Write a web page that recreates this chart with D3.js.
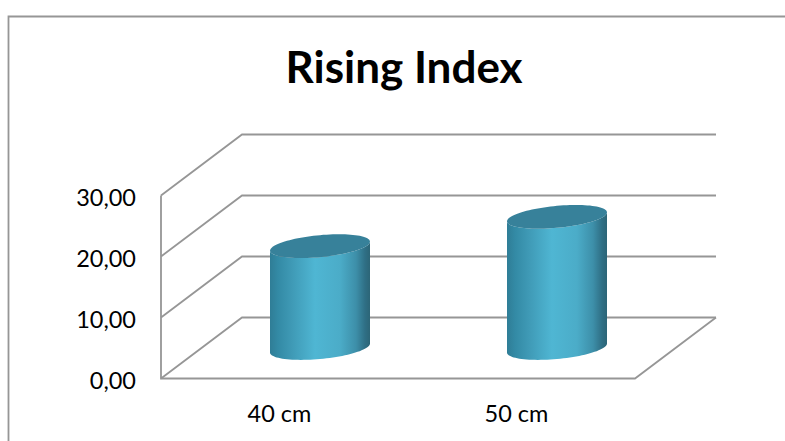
<!DOCTYPE html>
<html>
<head>
<meta charset="utf-8">
<script src="https://cdn.jsdelivr.net/npm/d3@7"></script>
<style>
html,body{margin:0;padding:0;background:#fff;}
svg{display:block;}
text{font-family:Lato,"Noto Sans",sans-serif;fill:#000;}
</style>
</head>
<body>
<div id="chart"></div>
<script>
const title = "Rising Index";
const categories = ["40 cm", "50 cm"];
const values = [16.7, 21.5];
const yTicks = [0, 10, 20, 30];

const width = 785, height = 441;
const gridColor = "#969696";
const depthX = 81, depthY = 61;      // oblique offset of the back wall

const y = d3.scaleLinear().domain([0, 30]).range([378.5, 195.5]);
const x = d3.scaleBand().domain(categories).range([161, 635]);
const numberFormat = d => d.toFixed(2).replace(".", ",");

const svg = d3.select("#chart").append("svg")
  .attr("width", width).attr("height", height);

const defs = svg.append("defs");
const grad = defs.append("linearGradient").attr("id", "cylinderSide")
  .attr("x1", "0").attr("x2", "1").attr("y1", "0").attr("y2", "0");
[[0, "#2f7d96"], [0.08, "#338aa5"], [0.22, "#3f9ab6"], [0.45, "#4fb6d3"],
 [0.7, "#4bacc8"], [0.86, "#3d8fa9"], [0.95, "#2f6f85"], [1, "#2c6577"]]
  .forEach(([o, c]) => grad.append("stop").attr("offset", o).attr("stop-color", c));

// Chart frame, open at the right and bottom edges of the page
svg.append("path")
  .attr("d", d3.line()([[8.5, height], [8.5, 16.5], [width, 16.5]]))
  .attr("fill", "none").attr("stroke", gridColor).attr("stroke-width", 1.8);

svg.append("text")
  .attr("x", 404).attr("y", 83)
  .attr("text-anchor", "middle")
  .attr("font-size", 44).attr("font-weight", 700)
  .text(title);

// Wall and floor gridlines
const grid = svg.append("g").attr("fill", "none")
  .attr("stroke", gridColor).attr("stroke-width", 1.8);
const [x0, x1] = x.range();
yTicks.forEach(t => {
  grid.append("path").attr("d", d3.line()([
    [x0, y(t)], [x0 + depthX, y(t) - depthY], [x1 + depthX, y(t) - depthY]
  ]));
});
grid.append("path").attr("d", d3.line()([
  [x0, y(30)], [x0, y(0)], [x1, y(0)], [x1 + depthX, y(0) - depthY]
]));

// Value axis
const yAxis = svg.append("g").attr("transform", `translate(${x0},0)`)
  .call(d3.axisLeft(y).tickValues(yTicks).tickFormat(numberFormat).tickSize(0).tickPadding(25));
yAxis.select(".domain").remove();
yAxis.selectAll("text").attr("font-size", 23.5).attr("font-family", "Lato, sans-serif").attr("dy", "0.42em");

// Category axis
const xAxis = svg.append("g").attr("transform", `translate(0,${y(0)})`)
  .call(d3.axisBottom(x).tickSize(0).tickPadding(27));
xAxis.select(".domain").remove();
xAxis.selectAll("text").attr("font-size", 23.5).attr("font-family", "Lato, sans-serif");

// Cylinders stand halfway into the floor's depth
const radiusX = 50, radiusY = 11, skew = 4.5;
const angles = d3.range(0, 2 * Math.PI + 0.001, Math.PI / 48);
const rimPoint = (cx, cy, a) => [
  cx + radiusX * Math.cos(a),
  cy + radiusY * Math.sin(a) - skew * Math.cos(a)
];

const bars = svg.append("g").selectAll("g").data(categories).join("g");

bars.each(function (c, i) {
  const g = d3.select(this);
  const cx = x(c) + x.bandwidth() / 2 + depthX / 2;
  const base = y(0) - depthY / 2;
  const top = base - (y(0) - y(values[i]));
  const front = angles.filter(a => a <= Math.PI + 0.001);
  // front half of each rim runs right to left with increasing angle
  const topFront = front.map(a => rimPoint(cx, top, a));
  const baseFront = front.map(a => rimPoint(cx, base, a)).reverse();
  g.append("path")
    .attr("d", d3.line()(baseFront.concat(topFront)) + "Z")
    .attr("fill", "url(#cylinderSide)");
  g.append("path")
    .attr("d", d3.line()(angles.map(a => rimPoint(cx, top, a))) + "Z")
    .attr("fill", "#37819a");
});
</script>
</body>
</html>
